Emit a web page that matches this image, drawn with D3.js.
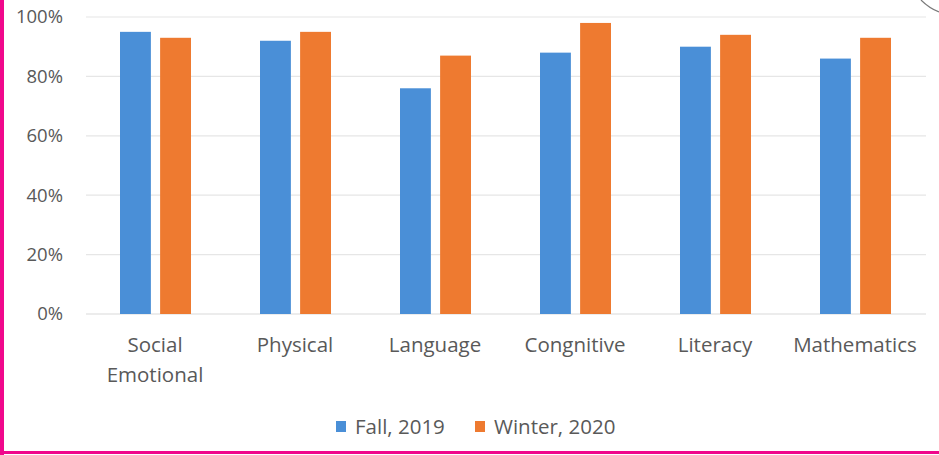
<!DOCTYPE html>
<html><head><meta charset="utf-8">
<script src="https://cdn.jsdelivr.net/npm/d3@7/dist/d3.min.js"></script>
<style>body{margin:0;background:#fff}svg{display:block}</style>
</head><body>
<svg id="c" width="939" height="455"></svg>
<script>
const categories = [["Social","Emotional"],["Physical"],["Language"],["Congnitive"],["Literacy"],["Mathematics"]];
const seriesNames = ["Fall, 2019","Winter, 2020"];
const fall2019 = [95, 92, 76, 88, 90, 86];
const winter2020 = [93, 95, 87, 98, 94, 93];
const yTicks = [0, 20, 40, 60, 80, 100];
const colors = ["#4a8fd7", "#ee7a30"];

(function(){
const svg = d3.select("#c");
const font = "'Open Sans', 'Noto Sans', sans-serif";
const pLeft = 86, pRight = 926, pTop = 17, pBottom = 314;

const x = d3.scaleBand().domain(d3.range(categories.length)).range([pLeft, pRight]);
const x1 = d3.scaleBand().domain([0,1]).range([0, 71]).paddingInner(0.23);
const y = d3.scaleLinear().domain([0,100]).range([pBottom, pTop]);

svg.append("g").selectAll("line").data(yTicks).join("line")
  .attr("x1", pLeft).attr("x2", pRight)
  .attr("y1", d => y(d)).attr("y2", d => y(d))
  .attr("stroke", d => d === 0 ? "#d9d9d9" : "#e6e6e6").attr("stroke-width", 1.2);

const yAxis = d3.axisLeft(y).tickValues(yTicks).tickFormat(d => d + "%").tickSize(0).tickPadding(0);
const ya = svg.append("g").attr("transform", `translate(63,0)`).call(yAxis);
ya.select(".domain").remove();
ya.selectAll("text").attr("font-family", font).attr("font-size", 18.5).attr("fill", "#595959");

const series = [fall2019, winter2020];
series.forEach((vals, si) => {
  svg.append("g").selectAll("rect").data(vals).join("rect")
    .attr("x", (d, i) => x(i) + x.bandwidth()/2 - 36 + x1(si))
    .attr("width", x1.bandwidth())
    .attr("y", d => y(d))
    .attr("height", d => y(0) - y(d))
    .attr("fill", colors[si]);
});

const xl = svg.append("g");
categories.forEach((lines, i) => {
  const cx = x(i) + x.bandwidth()/2 - 1;
  const t = xl.append("text").attr("x", cx).attr("y", 352)
    .attr("text-anchor", "middle").attr("font-family", font).attr("font-size", 20.5).attr("fill", "#595959");
  lines.forEach((l, k) => t.append("tspan").attr("x", cx).attr("dy", k === 0 ? 0 : 30).text(l));
});

const leg = svg.append("g");
const legX = [336, 475];
seriesNames.forEach((n, i) => {
  leg.append("rect").attr("x", legX[i]).attr("y", 421).attr("width", 10).attr("height", 11).attr("fill", colors[i]);
  leg.append("text").attr("x", legX[i] + 19).attr("y", 434).attr("font-family", font).attr("font-size", 20.5)
    .attr("fill", "#595959").text(n);
});

svg.append("rect").attr("x", 0).attr("y", 0).attr("width", 4).attr("height", 455).attr("fill", "#f0078c");
svg.append("rect").attr("x", 0).attr("y", 451).attr("width", 939).attr("height", 3).attr("fill", "#f0078c");
svg.append("path").attr("d", "M921,0 Q929,8 939,12").attr("fill", "none").attr("stroke", "#7a7a7a").attr("stroke-width", 1.2);
})();
</script>
</body></html>
